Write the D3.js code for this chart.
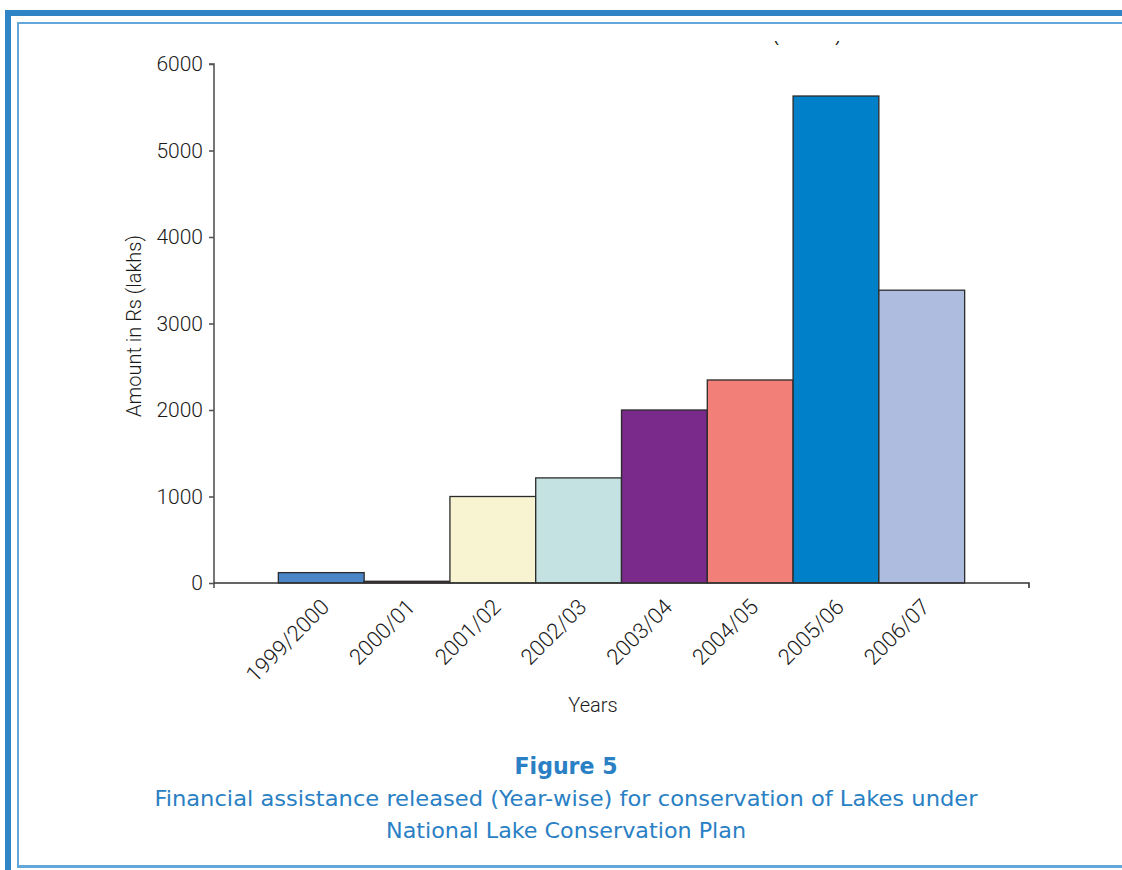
<!DOCTYPE html>
<html>
<head>
<meta charset="utf-8">
<script src="https://cdn.jsdelivr.net/npm/d3@7"></script>
<style>
  html, body { margin: 0; padding: 0; background: #fff; }
  svg { display: block; }
  .tick text { font-family: Roboto, sans-serif; font-weight: 300; fill: #1a1a1a; }
</style>
</head>
<body>
<div id="chart"></div>
<script>
const years = ['1999/2000','2000/01','2001/02','2002/03','2003/04','2004/05','2005/06','2006/07'];
const amounts = [120, 20, 1000, 1215, 2000, 2347, 5630, 3385];
const barColors = ['#4a86c8','#5c1c2c','#f8f3d0','#c4e2e2','#7a2a8a','#f28078','#0080c8','#aebcdf'];
const yTicks = [0, 1000, 2000, 3000, 4000, 5000, 6000];

const W = 1122, H = 870;
const svg = d3.select('#chart').append('svg')
  .attr('width', W)
  .attr('height', H);

// page frame
svg.append('rect').attr('x', 5).attr('y', 10).attr('width', W - 5).attr('height', 6).attr('fill', '#2f84c6');
svg.append('rect').attr('x', 5).attr('y', 10).attr('width', 6).attr('height', H - 10).attr('fill', '#2f84c6');
svg.append('rect').attr('x', 17).attr('y', 22).attr('width', W - 17).attr('height', 2).attr('fill', '#63a6da');
svg.append('rect').attr('x', 17).attr('y', 22).attr('width', 2).attr('height', 845).attr('fill', '#63a6da');
svg.append('rect').attr('x', 17).attr('y', 865).attr('width', W - 17).attr('height', 3).attr('fill', '#63a6da');

// scraps of a cut-off label at the top
svg.append('clipPath').attr('id', 'cut')
  .append('rect').attr('x', 760).attr('y', 41).attr('width', 100).attr('height', 8);
svg.append('text')
  .attr('clip-path', 'url(#cut)')
  .attr('x', 773).attr('y', 41)
  .attr('textLength', 68).attr('lengthAdjust', 'spacingAndGlyphs')
  .style('font-family', 'Liberation Sans, Arial, sans-serif')
  .style('font-size', '18px')
  .attr('fill', '#231f20')
  .text('(Rs lakh)');

const plotL = 214, plotR = 1029, plotT = 64, plotB = 583;

const x = d3.scaleBand().domain(years).range([plotL, plotR]).paddingInner(0).paddingOuter(0.75);
const y = d3.scaleLinear().domain([0, 6000]).range([plotB, plotT]);

// bars
svg.append('g').selectAll('rect')
  .data(years)
  .join('rect')
  .attr('x', d => x(d))
  .attr('y', (d, i) => y(amounts[i]))
  .attr('width', x.bandwidth())
  .attr('height', (d, i) => y(0) - y(amounts[i]))
  .attr('fill', (d, i) => barColors[i])
  .attr('stroke', '#2b2b2b')
  .attr('stroke-width', 1.3);

// y axis
const yAxis = svg.append('g')
  .attr('transform', `translate(${plotL},0)`)
  .call(d3.axisLeft(y).tickValues(yTicks).tickSize(5).tickPadding(6).tickFormat(d3.format('d')));
yAxis.select('.domain').attr('d', `M-5,${plotT}H0V${plotB + 5}`).attr('stroke', '#555').attr('stroke-width', 1.6);
yAxis.selectAll('.tick line').attr('stroke', '#555').attr('stroke-width', 1.6);
yAxis.selectAll('.tick text').style('font-size', '21px');

// x axis
const xAxis = svg.append('g')
  .attr('transform', `translate(0,${plotB})`)
  .call(d3.axisBottom(x).tickSize(0).tickPadding(14));
xAxis.select('.domain').attr('d', `M${plotL},0H${plotR}V5`).attr('stroke', '#333').attr('stroke-width', 1.6);
xAxis.selectAll('.tick text')
  .style('font-size', '22px')
  .attr('text-anchor', 'end')
  .attr('dy', '0.35em')
  .attr('transform', 'translate(-6,10) rotate(-45)');

// axis titles
svg.append('text')
  .attr('x', 593).attr('y', 712)
  .attr('text-anchor', 'middle')
  .style('font-family', 'Roboto, sans-serif')
  .style('font-weight', 300)
  .style('font-size', '20px')
  .attr('fill', '#1a1a1a')
  .text('Years');

svg.append('text')
  .attr('transform', 'translate(141,326) rotate(-90)')
  .attr('text-anchor', 'middle')
  .style('font-family', 'Roboto, sans-serif')
  .style('font-weight', 300)
  .style('font-size', '20px')
  .attr('fill', '#1a1a1a')
  .text('Amount in Rs (lakhs)');

// caption
const cap = svg.append('g')
  .style('font-family', '"DejaVu Sans Condensed", "DejaVu Sans", sans-serif')
  .attr('fill', '#2a80c4')
  .attr('text-anchor', 'middle');
cap.append('text').attr('x', 566).attr('y', 774)
  .style('font-size', '23px').style('font-weight', 'bold')
  .attr('textLength', 103).attr('lengthAdjust', 'spacingAndGlyphs')
  .text('Figure 5');
cap.append('text').attr('x', 566).attr('y', 806)
  .style('font-size', '22px')
  .attr('textLength', 823).attr('lengthAdjust', 'spacingAndGlyphs')
  .text('Financial assistance released (Year-wise) for conservation of Lakes under');
cap.append('text').attr('x', 566).attr('y', 838)
  .style('font-size', '22px')
  .attr('textLength', 360).attr('lengthAdjust', 'spacingAndGlyphs')
  .text('National Lake Conservation Plan');
</script>
</body>
</html>
